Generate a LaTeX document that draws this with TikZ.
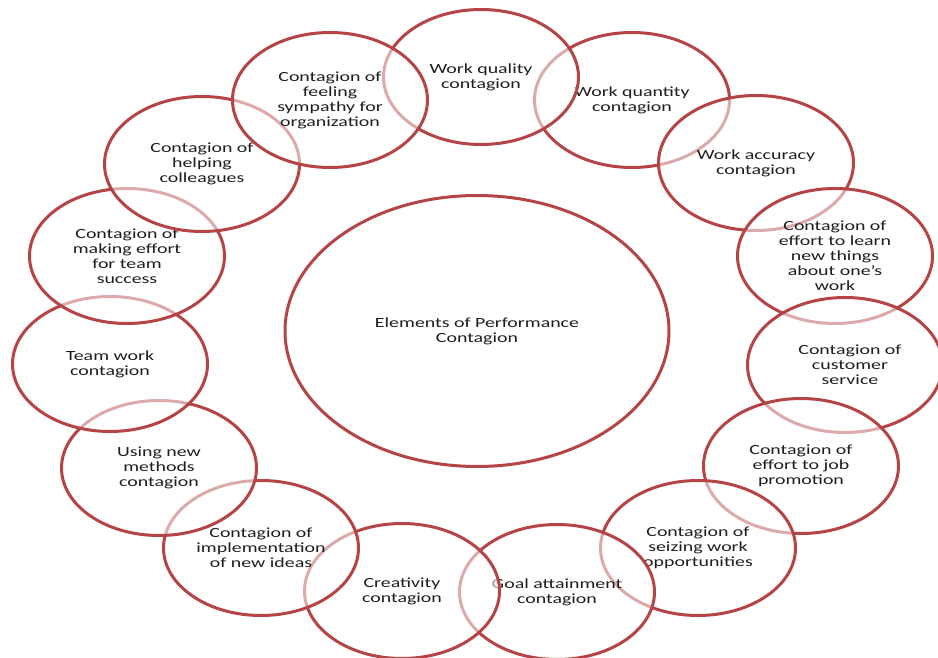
\documentclass[tikz,border=0pt]{standalone}
\usepackage{fontspec}
\setmainfont[FakeStretch=1.42]{Carlito}
\usetikzlibrary{shapes.geometric}
\definecolor{ringred}{RGB}{181,68,70}
\definecolor{txt}{RGB}{30,30,30}
\tikzset{
  bub/.style={ellipse, draw=ringred, line width=3pt, fill=white, fill opacity=0.55,
    text opacity=1, text=txt, minimum width=195pt, minimum height=135pt,
    inner sep=0pt, align=center, font=\fontsize{14}{15}\selectfont},
  hub/.style={ellipse, draw=ringred, line width=3pt, fill=white,
    text=txt, minimum width=384pt, minimum height=271pt,
    inner sep=0pt, align=center, font=\fontsize{14}{15}\selectfont}
}
\begin{document}
\begin{tikzpicture}[x=1pt,y=-1pt]
\useasboundingbox (0,0) rectangle (938,658);
\node[hub] (hub) at (477,331) {Elements of Performance\\Contagion};
\node[bub] (quantity) at (632,100) {Work quantity\\contagion};
\node[bub] (quality) at (481,77) {Work quality\\contagion};
\node[bub] (accuracy) at (756,163) {Work accuracy\\contagion};
\node[bub] (learn) at (835,256) {Contagion of\\effort to learn\\new things\\about one’s\\work};
\node[bub] (customer) at (845,365) {\hspace*{10pt}Contagion of\\\hspace*{10pt}customer\\\hspace*{10pt}service};
\node[bub] (promotion) at (801,466) {Contagion of\\effort to job\\promotion};
\node[bub] (seizing) at (698,548) {Contagion of\\seizing work\\opportunities};
\node[bub] (goal) at (557,592) {Goal attainment\\contagion};
\node[bub] (creativity) at (402,591) {Creativity\\contagion};
\node[bub] (implementation) at (261,548) {Contagion of\\implementation\\of new ideas};
\node[bub] (using) at (159,468) {Using new\\methods\\contagion};
\node[bub] (team) at (110,364) {Team work\\contagion};
\node[bub] (making) at (127,256) {Contagion of\\making effort\\for team\\success};
\node[bub] (helping) at (202,164) {Contagion of\\helping\\colleagues};
\node[bub] (sympathy) at (330,100) {Contagion of\\feeling\\sympathy for\\organization};
\end{tikzpicture}
\end{document}
